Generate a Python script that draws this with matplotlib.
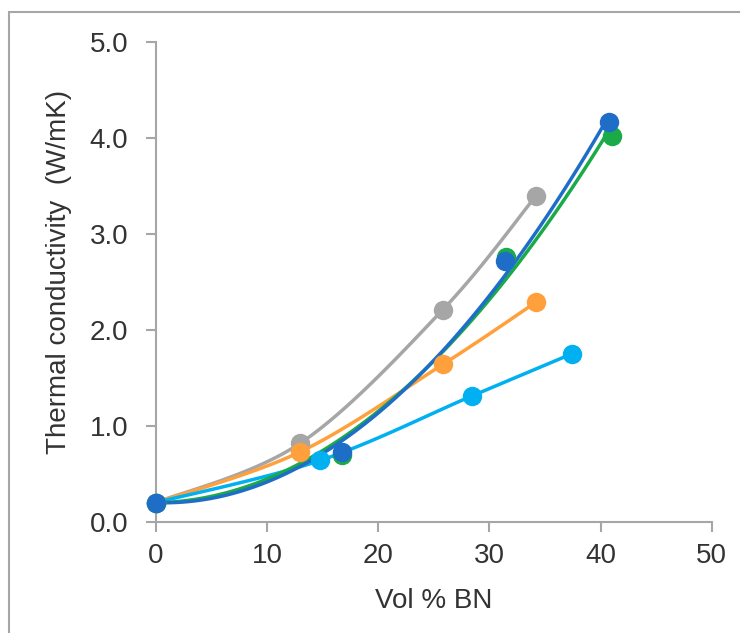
import matplotlib.pyplot as plt
from matplotlib.patches import Rectangle
import numpy as np

plt.rcParams['font.family'] = ['Liberation Sans', 'DejaVu Sans']

# series data (vol % BN, W/mK)
gray_x = [0, 13.0, 25.8, 34.2]
gray_y = [0.20, 0.82, 2.21, 3.40]
orange_x = [0, 13.0, 25.8, 34.2]
orange_y = [0.20, 0.73, 1.64, 2.29]
lightblue_x = [0, 14.8, 28.4, 37.4]
lightblue_y = [0.20, 0.64, 1.31, 1.75]
green_x = [0, 16.7, 31.5, 41.0]
green_y = [0.20, 0.70, 2.76, 4.02]
darkblue_x = [0, 16.7, 31.4, 40.8]
darkblue_y = [0.20, 0.73, 2.72, 4.17]

x_ticks = [0, 10, 20, 30, 40, 50]
y_ticks = [0.0, 1.0, 2.0, 3.0, 4.0, 5.0]

# (x, y, colour, line kind)
series = [
    (gray_x, gray_y, '#A6A6A6', 'smooth'),
    (orange_x, orange_y, '#FFA03C', 'smooth'),
    (lightblue_x, lightblue_y, '#00B0F0', 'smooth'),
    (green_x, green_y, '#1AAA48', 'trend'),
    (darkblue_x, darkblue_y, '#1E6EC8', 'trend'),
]


def smooth(xs, ys, n=40):
    # excel-style smoothed line: bezier segments with catmull-rom controls
    px = np.asarray(xs, float)
    py = np.asarray(ys, float)
    outx, outy = [], []
    for i in range(len(px) - 1):
        i0 = max(i - 1, 0)
        i3 = min(i + 2, len(px) - 1)
        c1x = px[i] + (px[i + 1] - px[i0]) / 6
        c1y = py[i] + (py[i + 1] - py[i0]) / 6
        c2x = px[i + 1] - (px[i3] - px[i]) / 6
        c2y = py[i + 1] - (py[i3] - py[i]) / 6
        t = np.linspace(0, 1, n)
        a, b, c, d = (1 - t) ** 3, 3 * (1 - t) ** 2 * t, 3 * (1 - t) * t ** 2, t ** 3
        outx.extend(a * px[i] + b * c1x + c * c2x + d * px[i + 1])
        outy.extend(a * py[i] + b * c1y + c * c2y + d * py[i + 1])
    return outx, outy


def trend(xs, ys, n=120):
    # 2nd order polynomial trendline, pinned near the first point
    w = [5, 1, 1, 1]
    coef = np.polyfit(xs, ys, 2, w=w)
    tx = np.linspace(min(xs), max(xs), n)
    return tx, np.polyval(coef, tx)


fig = plt.figure(figsize=(7.4, 6.33), dpi=100)
ax = fig.add_axes([0.2108, 0.1758, 0.7509, 0.7574])

for xs, ys, col, kind in series:
    sx, sy = smooth(xs, ys) if kind == 'smooth' else trend(xs, ys)
    ax.plot(sx, sy, color=col, lw=2.5, solid_capstyle='round', zorder=2, clip_on=False)
    ax.plot(xs, ys, 'o', color=col, ms=14, mec='none', zorder=3, clip_on=False)

ax.set_xlim(0, 50)
ax.set_ylim(0, 5)
ax.set_xticks(x_ticks)
ax.set_yticks(y_ticks)
ax.set_yticklabels([f'{v:.1f}' for v in y_ticks])
for s in ['top', 'right']:
    ax.spines[s].set_visible(False)
for s in ['left', 'bottom']:
    ax.spines[s].set_color('#A6A6A6')
    ax.spines[s].set_linewidth(1.5)
ax.tick_params(direction='out', length=7, width=1.5, color='#A6A6A6',
               labelsize=20, labelcolor='#333333')
ax.tick_params(axis='x', pad=8)
ax.tick_params(axis='y', pad=13)

ax.set_xlabel('Vol % BN', fontsize=20, color='#333333', labelpad=14)
ax.set_ylabel('Thermal conductivity  (W/mK)', fontsize=20, color='#333333', labelpad=13)
ax.yaxis.label.set_y(0.522)

fig.patches.append(Rectangle((9 / 740, -0.1), 2, 1.1 - 12 / 633, transform=fig.transFigure,
                             fill=False, ec='#A6A6A6', lw=1.5))

fig.savefig('out.png', dpi=100)
